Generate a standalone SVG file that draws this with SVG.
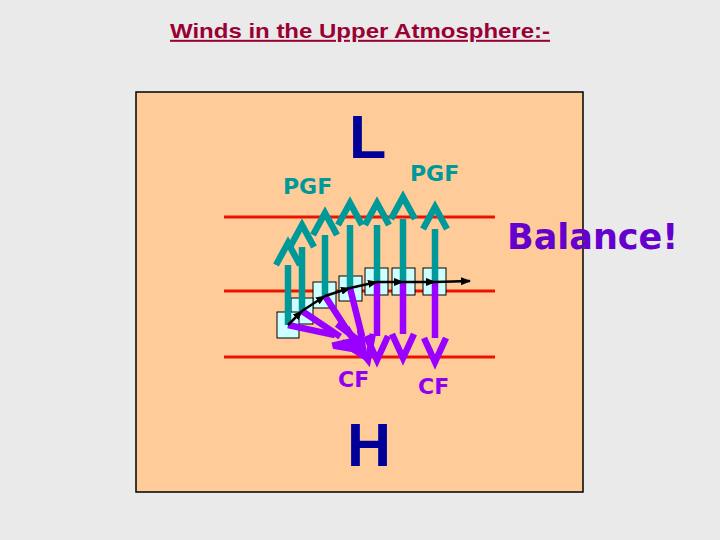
<svg xmlns="http://www.w3.org/2000/svg" width="720" height="540" viewBox="0 0 720 540">
<defs>
<style>
.title{font-family:"Liberation Sans",Arial,sans-serif;font-weight:bold;font-size:20px;fill:#990033;text-decoration:underline}
.big{font-family:"Liberation Sans",Arial,sans-serif;font-weight:bold;font-size:61px;fill:#000099}
.pgf{font-family:"DejaVu Sans",Verdana,sans-serif;font-weight:bold;font-size:22px;fill:#009999}
.cf{font-family:"DejaVu Sans",Verdana,sans-serif;font-weight:bold;font-size:22px;fill:#8f00f0}
.bal{font-family:"DejaVu Sans",Verdana,sans-serif;font-weight:bold;font-size:35px;fill:#6600cc}
.iso{stroke:#ee1100;stroke-width:3;fill:none}
.sq{fill:#ccffff;stroke:#000;stroke-width:1}
.teal{stroke:#009999;stroke-width:6.5;fill:none;stroke-linejoin:miter}
.purp{stroke:#9900ff;stroke-width:6.5;fill:none;stroke-linejoin:miter}
.vel{stroke:#000;stroke-width:2.5;fill:none}
</style>
<marker id="ah" markerWidth="10" markerHeight="8" refX="9" refY="4" orient="auto" markerUnits="userSpaceOnUse"><path d="M0,0 L10,4 L0,8 z" fill="#000"/></marker>
</defs>
<rect x="0" y="0" width="720" height="540" fill="#eaeaea"/>
<text class="title" transform="translate(170,38) scale(1.2,1)" x="0" y="0">Winds in the Upper Atmosphere:-</text>
<g id="panel"><rect x="136" y="92" width="447" height="400" fill="#ffcc99" stroke="#000" stroke-width="1.5"/></g>
<g id="isobars">
<line class="iso" x1="224" y1="217" x2="495" y2="217"/>
<line class="iso" x1="224" y1="291" x2="495" y2="291"/>
<line class="iso" x1="224" y1="357" x2="495" y2="357"/>
</g>
<g id="labelL"><text class="big" x="349" y="158">L</text></g>
<g id="labelH"><text class="big" x="347" y="466">H</text></g>
<g id="pgf1"><text class="pgf" x="283" y="194">PGF</text></g>
<g id="pgf2"><text class="pgf" x="410" y="181">PGF</text></g>
<g id="cf1"><text class="cf" x="338" y="387">CF</text></g>
<g id="cf2"><text class="cf" x="418" y="394">CF</text></g>
<g id="balance"><text class="bal" x="507" y="249">Balance!</text></g>
<g id="parcels">
<rect class="sq" x="423" y="268" width="23" height="27"/>
<rect class="sq" x="392" y="268" width="23" height="27"/>
<rect class="sq" x="365" y="268" width="23" height="27"/>
<rect class="sq" x="339" y="276" width="23" height="25"/>
<rect class="sq" x="313" y="282" width="23" height="26"/>
<rect class="sq" x="291" y="298" width="22" height="26"/>
<rect class="sq" x="277" y="312" width="22" height="26"/>
</g>
<g id="connectors">
<g id="pgf-arrows">
<path class="teal" d="M288,325 V265 M276,265 L288,243 L300,265"/>
<path class="teal" d="M302,311 V247 M290,247 L302,225 L314,247"/>
<path class="teal" d="M325,296 V235 M313,235 L325,213 L337,235"/>
<path class="teal" d="M350,288 V225 M338,225 L350,203 L362,225"/>
<path class="teal" d="M377,282 V225 M365,225 L377,203 L389,225"/>
<path class="teal" d="M403,282 V219 M391,219 L403,197 L415,219"/>
<path class="teal" d="M435,282 V229 M423,229 L435,207 L447,229"/>
</g>
<g id="cf-arrows">
<path class="purp" transform="translate(288,325) rotate(12.1)" d="M0,0 H48 M47.6,-11 L71.6,0 L47.6,11"/>
<path class="purp" transform="translate(302,311) rotate(33.9)" d="M0,0 H46 M46,-11 L70,0 L46,11"/>
<path class="purp" transform="translate(325,296) rotate(57)" d="M0,0 H48 M47.6,-11 L71.6,0 L47.6,11"/>
<path class="purp" transform="translate(350,288) rotate(76)" d="M0,0 H50 M50,-11 L74,0 L50,11"/>
<path class="purp" d="M377,282 V336 M366,336 L377,360 L388,336"/>
<path class="purp" d="M403,282 V334 M392,334 L403,358 L414,334"/>
<path class="purp" d="M435,282 V338 M424,338 L435,362 L446,338"/>
</g>
<g id="velocity">
<line class="vel" x1="288" y1="325" x2="302" y2="311" marker-end="url(#ah)"/>
<line class="vel" x1="302" y1="311" x2="325" y2="296" marker-end="url(#ah)"/>
<line class="vel" x1="325" y1="296" x2="350" y2="288" marker-end="url(#ah)"/>
<line class="vel" x1="350" y1="288" x2="377" y2="282" marker-end="url(#ah)"/>
<line class="vel" x1="377" y1="282" x2="403" y2="282" marker-end="url(#ah)"/>
<line class="vel" x1="403" y1="282" x2="435" y2="282" marker-end="url(#ah)"/>
<line class="vel" x1="435" y1="282" x2="470" y2="281" marker-end="url(#ah)"/>
</g>
</g>
</svg>
